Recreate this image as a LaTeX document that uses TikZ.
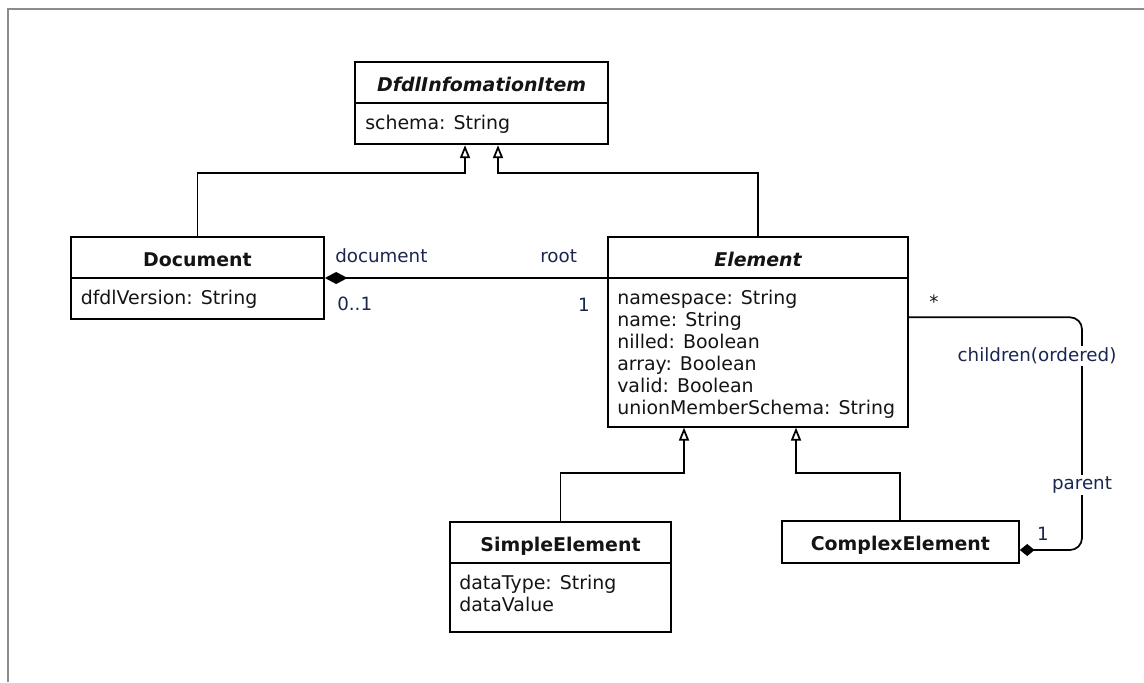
\documentclass[tikz,border=0pt]{standalone}
\usepackage{fontspec}
\setmainfont{DejaVu Sans}
\usetikzlibrary{arrows.meta}

\definecolor{assoclabel}{HTML}{1B2650}
\definecolor{pageframe}{HTML}{8C8C8C}
\definecolor{umltext}{HTML}{141414}

\tikzset{
  umlclass/.style={draw, line width=1.3pt, inner sep=0pt},
  classname/.style={anchor=base, inner sep=0pt, text=umltext, font=\fontsize{14.2pt}{16.5pt}\selectfont\bfseries},
  abstractname/.style={classname, font=\fontsize{14.2pt}{16.5pt}\selectfont\bfseries\itshape},
  attr/.style={anchor=base west, inner sep=0pt, text=umltext, font=\fontsize{14.2pt}{16.5pt}\selectfont},
  rolelabel/.style={inner sep=0pt, text=assoclabel, font=\fontsize{13.7pt}{16pt}\selectfont},
  generalization/.style={line width=1.3pt, -{Triangle[open, width=7.5pt, length=9.75pt, fill=white]}},
  composition/.style={line width=1.3pt, -{Diamond[width=9pt, length=17pt]}},
  compartment/.style={line width=1.3pt},
}

\begin{document}
\begin{tikzpicture}[x=0.75pt,y=0.75pt,yscale=-1,xscale=1]
\useasboundingbox (0,0) rectangle (1144,682);

%Page frame
\draw[pageframe, line width=1.5pt] (7.5,682) -- (7.5,9) -- (1144,9);

%Shape: Class boxes
\node[umlclass, minimum width=253.3*0.75pt, minimum height=82*0.75pt] (info) at (481.7,103.3) {};
\node[umlclass, minimum width=253*0.75pt, minimum height=82.6*0.75pt] (doc) at (197.5,278) {};
\node[umlclass, minimum width=300*0.75pt, minimum height=190*0.75pt] (elem) at (758,331.7) {};
\node[umlclass, minimum width=221*0.75pt, minimum height=110*0.75pt] (simple) at (560.5,576.7) {};
\node[umlclass, minimum width=237.3*0.75pt, minimum height=42*0.75pt] (cplx) at (900.35,542) {};

%Compartment lines
\draw[compartment] (355,102.7) -- (608.3,102.7);
\draw[compartment] (71,277.7) -- (324,277.7);
\draw[compartment] (608,277.7) -- (908,277.7);
\draw[compartment] (450,562.7) -- (671,562.7);

% Text Node
\node[abstractname] (infoname) at (481.7,91.6) {DfdlInfomationItem};
\node[attr] (infoschema) at (365,129.5) {schema: String};
% Text Node
\node[classname] (docname) at (197.5,266) {Document};
\node[attr] (docversion) at (80.5,304) {dfdlVersion: String};
% Text Node
\node[abstractname] (elemname) at (758,266) {Element};
\node[attr] (elemns) at (617,304) {namespace: String};
\node[attr] (elemname2) at (617,326.1) {name: String};
\node[attr] (elemnilled) at (617,348.2) {nilled: Boolean};
\node[attr] (elemarray) at (617,370.3) {array: Boolean};
\node[attr] (elemvalid) at (617,392.4) {valid: Boolean};
\node[attr] (elemunion) at (617,414.5) {unionMemberSchema: String};
% Text Node
\node[classname] (simplename) at (560.5,551) {SimpleElement};
\node[attr] (simpletype) at (459,589.5) {dataType: String};
\node[attr] (simplevalue) at (459,611.5) {dataValue};
% Text Node
\node[classname] (cplxname) at (900.35,550.3) {ComplexElement};

%Generalizations
\coordinate (docup) at (465,173.3);
\coordinate (elemup) at (498,173.3);
\coordinate (simpleup) at (684,473);
\coordinate (cplxup) at (796,473);
\draw[generalization] (doc.north) |- (docup) -- (docup |- info.south);
\draw[generalization] (elem.north) |- (elemup) -- (elemup |- info.south);
\draw[generalization] (simple.north) |- (simpleup) -- (simpleup |- elem.south);
\draw[generalization] (cplx.north) |- (cplxup) -- (cplxup |- elem.south);

%Composition document -- root
\draw[composition] (elem.west |- doc.east) -- (doc.east);

%Composition parent -- children
\coordinate (looptop) at (1082,317.3);
\coordinate (loopbot) at (1082,550);
\draw[composition, -{Diamond[width=9pt, length=11pt]}, rounded corners=9pt] (elem.east |- looptop) -- (looptop) -- (loopbot) -- (cplx.east |- loopbot);

% Text Node
\node[rolelabel, anchor=base west] (rdoc) at (335,262) {document};
\node[rolelabel, anchor=base west] (rroot) at (540,262) {root};
\node[rolelabel, anchor=base west] (mdoc) at (337,310) {0..1};
\node[rolelabel, anchor=base] (mroot) at (584,311) {1};
\node[rolelabel, anchor=base, text=umltext] (mchild) at (934,308) {*};
\node[rolelabel, fill=white, inner sep=1.5pt] (rchild) at (1037,356) {children(ordered)};
\node[rolelabel, fill=white, inner sep=1.5pt] (rparent) at (1082,485) {parent};
\node[rolelabel, anchor=base] (mparent) at (1043,540) {1};

\end{tikzpicture}
\end{document}
